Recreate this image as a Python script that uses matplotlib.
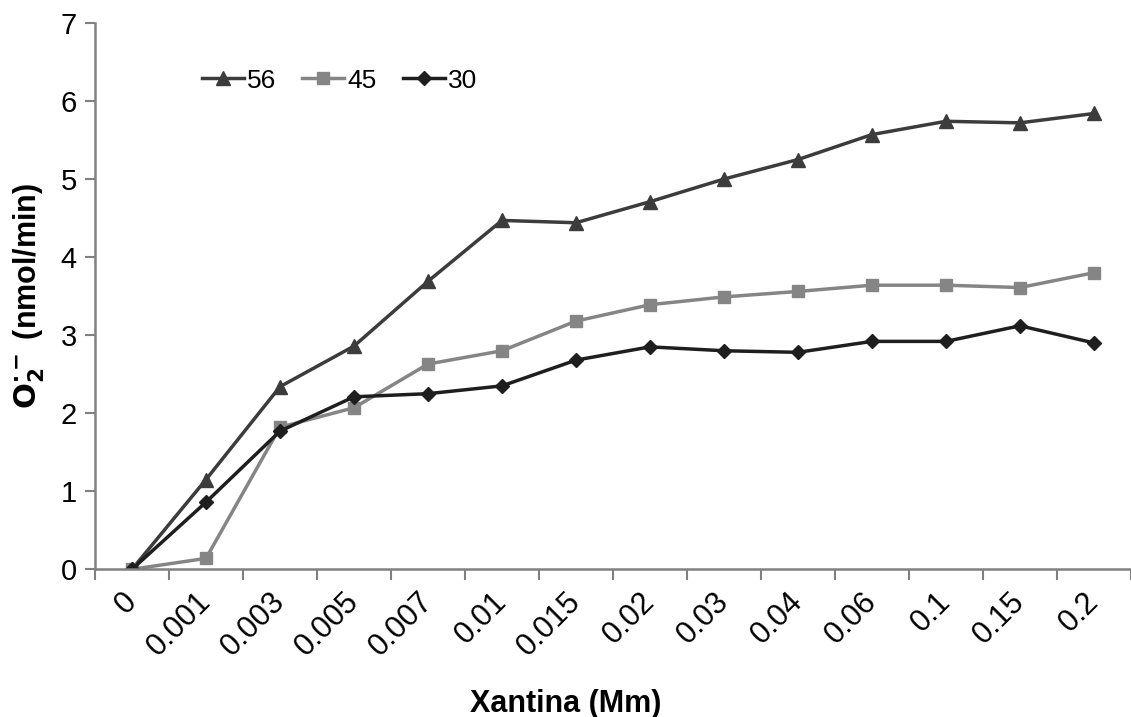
import numpy as np
import matplotlib.pyplot as plt

plt.rcParams['font.family'] = ['Liberation Sans', 'DejaVu Sans']

xantina = ['0', '0.001', '0.003', '0.005', '0.007', '0.01', '0.015', '0.02',
           '0.03', '0.04', '0.06', '0.1', '0.15', '0.2']
s56 = [0, 1.15, 2.34, 2.86, 3.69, 4.47, 4.44, 4.71, 5.0, 5.25, 5.57, 5.74, 5.72, 5.84]
s45 = [0, 0.14, 1.82, 2.07, 2.63, 2.80, 3.18, 3.39, 3.49, 3.56, 3.64, 3.64, 3.61, 3.80]
s30 = [0, 0.86, 1.77, 2.21, 2.25, 2.35, 2.68, 2.85, 2.80, 2.78, 2.92, 2.92, 3.12, 2.90]

x = np.arange(len(xantina))

fig = plt.figure(figsize=(11.31, 7.17), dpi=100)
ax = fig.add_axes([0.084, 0.206, 0.916, 0.762])

ax.plot(x, s56, color='#3c3c3c', lw=2.5, marker='^', ms=10, label='56')
ax.plot(x, s45, color='#858585', lw=2.5, marker='s', ms=9, label='45')
ax.plot(x, s30, color='#1e1e1e', lw=2.5, marker='D', ms=7, label='30')

ax.set_xlim(-0.5, len(xantina) - 0.5)
ax.set_ylim(0, 7)
ax.set_yticks(range(8))

# ticks between categories, labels at the centres
ax.set_xticks(np.arange(-0.5, len(xantina) + 0.5, 1))
ax.set_xticklabels([])
ax.set_xticks(x, minor=True)
ax.set_xticklabels(xantina, minor=True, rotation=45, ha='right', va='center',
                   rotation_mode='anchor', fontsize=22)
ax.tick_params(axis='x', which='minor', length=0, pad=20)
ax.tick_params(axis='x', which='major', length=8, width=1.5, color='#808080')
ax.tick_params(axis='y', length=7, width=1.5, color='#808080', labelsize=21, pad=6)

for side in ['top', 'right']:
    ax.spines[side].set_visible(False)
for side in ['left', 'bottom']:
    ax.spines[side].set_color('#808080')
    ax.spines[side].set_linewidth(1.8)

ax.set_ylabel(r'$\mathbf{O_2^{\cdot -}}$ (nmol/min)', fontsize=22, fontweight='bold', labelpad=10)
fig.text(0.5, 0.018, 'Xantina (Mm)', ha='center', va='center', fontsize=22, fontweight='bold')

ax.legend(loc='upper left', bbox_to_anchor=(0.08, 0.96), ncol=3, frameon=False,
          fontsize=19, handlelength=1.6, handletextpad=0.1, columnspacing=1.0)

fig.savefig('out.png', dpi=100)
